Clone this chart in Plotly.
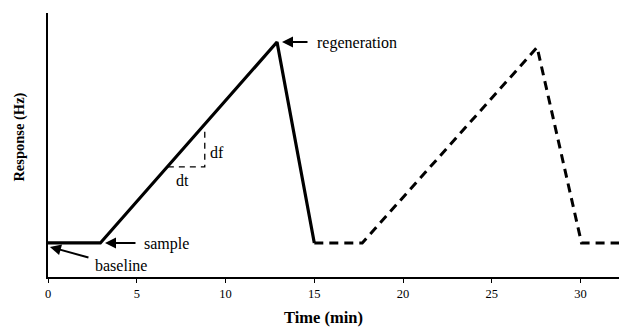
import plotly.graph_objects as go

# Data (time in min, response in arbitrary Hz units)
run1_time = [0, 2.95, 12.9, 15.0]
run1_resp = [12.9, 12.9, 89.0, 12.9]
run2_time = [15.0, 17.7, 27.55, 30.05, 32.4]
run2_resp = [12.9, 12.9, 87.0, 12.9, 12.9]
dt_time = [6.75, 8.83, 8.83]
dt_resp = [41.7, 41.7, 56.4]
tick_vals = [0, 5, 10, 15, 20, 25, 30]
tick_text = ["0", "5", "10", "15", "20", "25", "30"]

FONT = "Liberation Serif, Times New Roman, serif"

fig = go.Figure()
fig.add_trace(go.Scatter(x=run1_time, y=run1_resp, mode="lines",
                         line=dict(color="black", width=3.2), showlegend=False))
fig.add_trace(go.Scatter(x=run2_time, y=run2_resp, mode="lines",
                         line=dict(color="black", width=3, dash="9px,6px"), showlegend=False))
fig.add_trace(go.Scatter(x=dt_time, y=dt_resp, mode="lines",
                         line=dict(color="black", width=1.3, dash="6px,5px"), showlegend=False))

arrow = dict(showarrow=True, arrowhead=2, arrowsize=1.1, arrowwidth=2, arrowcolor="black",
             axref="pixel", ayref="pixel", text="")
txt = dict(showarrow=False, font=dict(family=FONT, size=16, color="black"),
           xanchor="left", yanchor="middle")

annotations = [
    dict(x=13.18, y=89.0, ax=27, ay=0, **arrow),
    dict(x=15.04, y=88.6, text="regeneration", **txt),
    dict(x=3.21, y=12.9, ax=32, ay=0, **arrow),
    dict(x=5.3, y=12.5, text="sample", **txt),
    dict(x=0.11, y=11.4, ax=40, ay=11, **arrow),
    dict(x=2.54, y=4.2, text="baseline", **txt),
    dict(x=7.6, y=36.4, text="dt", showarrow=False, xanchor="center", yanchor="middle",
         font=dict(family=FONT, size=16, color="black")),
    dict(x=9.0, y=47.3, text="df", **txt),
    dict(x=0.477, y=-0.152, xref="paper", yref="paper", text="<b>Time (min)</b>",
         xanchor="center", yanchor="middle",
         showarrow=False, font=dict(family=FONT, size=16.5, color="black")),
    dict(x=0, y=0.528, xref="paper", yref="paper", xshift=-28, text="<b>Response (Hz)</b>",
         xanchor="center", yanchor="middle",
         textangle=-90, showarrow=False, font=dict(family=FONT, size=14.5, color="black")),
]

fig.update_layout(
    width=619, height=324,
    margin=dict(l=40, r=2, t=5, b=55),
    paper_bgcolor="white", plot_bgcolor="white",
    annotations=annotations,
    xaxis=dict(range=[0, 32.5], showgrid=False, zeroline=False, showline=True,
               linecolor="black", linewidth=2, ticks="outside", ticklen=4,
               tickwidth=1, tickcolor="black", tickvals=tick_vals, ticktext=tick_text,
               tickfont=dict(family=FONT, size=12.5, color="black")),
    yaxis=dict(range=[0, 100], showgrid=False, zeroline=False, showline=True,
               linecolor="black", linewidth=2, showticklabels=False, ticks=""),
)

fig.write_html("out.html")
